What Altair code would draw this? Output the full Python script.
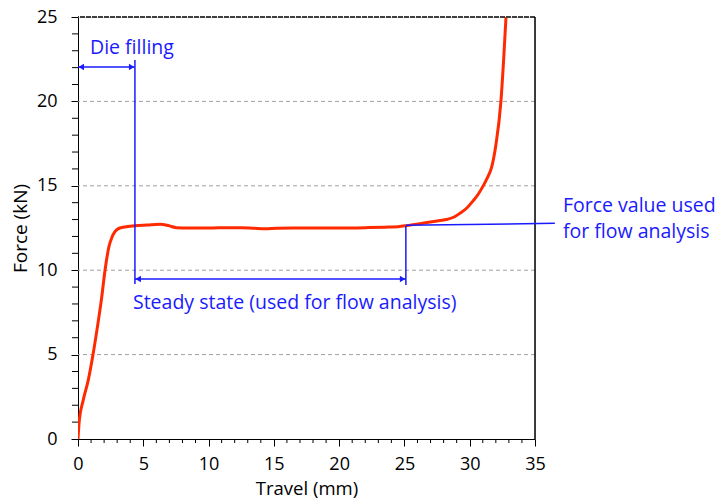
import altair as alt
import pandas as pd

# Curve data (travel mm, force kN)
travel = [0, 0.1, 0.4, 0.79, 1.15, 1.45, 1.8, 2.07, 2.37, 2.6, 2.83, 3.2, 3.7, 4.36, 5.3, 6.28, 6.9, 7.55,
          8.5, 10, 11.5, 12.5, 13.5, 14.3, 15.2, 16.5, 18, 20, 22, 23.5, 24.5, 25.17, 26.5, 27.5, 28.2,
          28.8, 29.25, 29.8, 30.25, 30.65, 31.0, 31.3, 31.68, 32.0, 32.39, 32.6, 32.78]
force = [0, 1.1, 2.3, 3.5, 5.0, 6.45, 8.3, 10.0, 11.4, 11.95, 12.28, 12.5, 12.58, 12.64, 12.68, 12.72, 12.65,
         12.52, 12.5, 12.5, 12.52, 12.52, 12.48, 12.45, 12.48, 12.5, 12.5, 12.5, 12.52, 12.55, 12.58, 12.64,
         12.8, 12.92, 13.0, 13.15, 13.37, 13.7, 14.1, 14.5, 14.95, 15.4, 16.1, 17.4, 20.0, 22.5, 25.0]

x_ticks = [0, 5, 10, 15, 20, 25, 30, 35]
y_ticks = [0, 5, 10, 15, 20, 25]
x_minor = [v for v in range(0, 36) if v % 5 != 0]
y_minor = [v for v in range(0, 26) if v % 5 != 0]
grid_vals = [5, 10, 15, 20]

# Annotation geometry (data units)
die_x0, die_x1, die_y = 0.0, 4.36, 22.04
die_vtop, die_vbot = 22.45, 9.18
steady_x0, steady_x1, steady_y = 4.36, 25.11, 9.48
right_vtop, right_vbot = 12.62, 9.12
conn_x = [25.11, 36.52]
conn_y = [12.66, 12.78]

texts = pd.DataFrame({
    "x": [0.92, 4.21, 37.14, 37.14],
    "y": [23.16, 8.06, 13.8, 12.26],
    "t": ["Die filling", "Steady state (used for flow analysis)", "Force value used", "for flow analysis"],
})

BLUE = "#1a1aff"
FONT = "Open Sans"

xs = alt.Scale(domain=[0, 35], nice=False, zero=False)
ys = alt.Scale(domain=[0, 25], nice=False, zero=False)

x_axis = alt.Axis(values=x_ticks, title="Travel (mm)", grid=False, labelFlush=False,
                  tickSize=7, tickColor="black", domainColor="black",
                  labelFontSize=18, titleFontSize=18.5, labelFont=FONT,
                  titleFont=FONT, labelColor="black", titleColor="black",
                  titleFontWeight="normal", labelPadding=9, titlePadding=6)
y_axis = alt.Axis(values=y_ticks, title="Force (kN)", grid=False, labelFlush=False,
                  tickSize=7, tickColor="black", domainColor="black",
                  labelFontSize=18, titleFontSize=19, labelFont=FONT,
                  titleFont=FONT, labelColor="black", titleColor="black",
                  titleFontWeight="normal", labelPadding=14, titlePadding=6)


def X(f):
    return alt.X(f, type="quantitative", scale=xs, axis=x_axis)


def Y(f):
    return alt.Y(f, type="quantitative", scale=ys, axis=y_axis)


curve_df = pd.DataFrame({"x": travel, "y": force})

grid = alt.Chart(pd.DataFrame({"y": grid_vals})).mark_rule(
    color="#a0a0a0", strokeDash=[4, 3], strokeWidth=1
).encode(y=Y("y"))

top_line = alt.Chart(pd.DataFrame({"y": [25]})).mark_rule(
    color="#404040", strokeDash=[5, 1], strokeWidth=2
).encode(y=Y("y"))

right_line = alt.Chart(pd.DataFrame({"x": [35]})).mark_rule(
    color="black", strokeWidth=1.5
).encode(x=X("x"))

xminor = alt.Chart(pd.DataFrame({"x": x_minor})).mark_rule(color="black", strokeWidth=1).encode(
    x=X("x"), y=alt.value(422), y2=alt.value(426))
yminor = alt.Chart(pd.DataFrame({"y": y_minor})).mark_rule(color="black", strokeWidth=1).encode(
    y=Y("y"), x=alt.value(-6), x2=alt.value(0))

curve = alt.Chart(curve_df).mark_line(color="#ff2a00", strokeWidth=3, interpolate="monotone",
                                       clip=True).encode(x=X("x"), y=Y("y"))

segs = pd.DataFrame({
    "x": [die_x0, die_x1, steady_x0, steady_x1, conn_x[0]],
    "y": [die_y, die_vtop, steady_y, right_vtop, conn_y[0]],
    "x2": [die_x1, die_x1, steady_x1, steady_x1, conn_x[1]],
    "y2": [die_y, die_vbot, steady_y, right_vbot, conn_y[1]],
})
lines = alt.Chart(segs).mark_rule(color=BLUE, strokeWidth=1.5).encode(
    x=X("x"), y=Y("y"), x2="x2:Q", y2="y2:Q")

heads = pd.DataFrame({
    "x": [die_x0 + 0.25, die_x1 - 0.25, steady_x0 + 0.25, steady_x1 - 0.25],
    "y": [die_y, die_y, steady_y, steady_y],
    "s": ["triangle-left", "triangle-right", "triangle-left", "triangle-right"],
})
arrows = alt.Chart(heads).mark_point(filled=True, color=BLUE, size=40, opacity=1).encode(
    x=X("x"), y=Y("y"),
    shape=alt.Shape("s:N", scale=None, legend=None))

labels = alt.Chart(texts).mark_text(align="left", baseline="middle", color=BLUE, font=FONT,
                                    fontSize=19.5).encode(
    x=X("x"), y=Y("y"), text="t:N")

chart = alt.layer(grid, curve, top_line, right_line, xminor, yminor, lines, arrows, labels).properties(
    width=457, height=422,
    autosize=alt.AutoSizeParams(type="none"),
    padding={"left": 78, "top": 17, "right": 181, "bottom": 65},
).configure_view(stroke=None).configure(background="white")

chart.save("out.html", embed_options={"renderer": "svg", "actions": False})
